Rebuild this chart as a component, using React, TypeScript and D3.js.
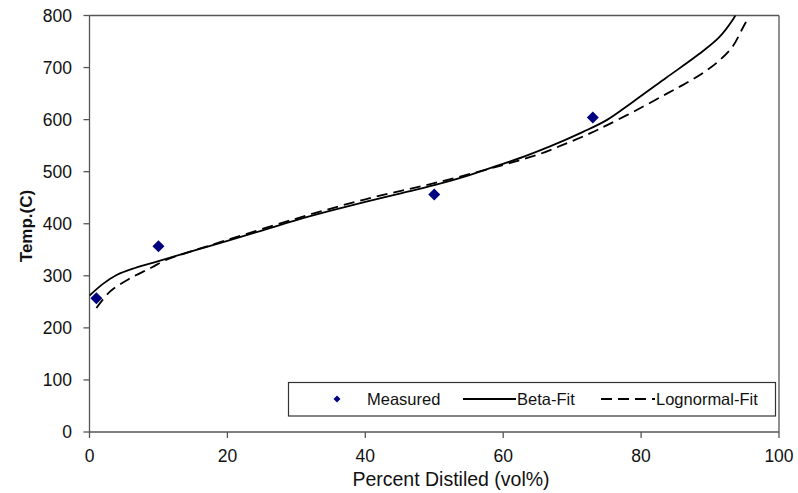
import React from "react";
import * as d3 from "d3";

const measuredX = [1, 10, 50, 73];
const measuredT = [257, 357, 456, 604];

const betaX = [0, 2, 4, 6.6, 10, 15, 20, 25, 30, 35, 40, 45, 50, 55, 59.5, 63, 66.7, 71.5, 75, 78.8, 83.6, 88.4, 91.3, 93.3, 93.7];
const betaT = [262, 285, 302, 315, 328, 348, 367, 387, 407, 425, 442, 458, 474, 493, 513, 529, 548, 576, 599, 634, 680, 726, 758, 792, 801];

const logX = [1, 3, 6, 9, 11, 15, 20, 30, 40, 50, 60, 65.3, 69.1, 72.5, 75, 79.3, 83.6, 86.5, 89, 91.3, 93.3, 94.7, 95.5];
const logT = [238, 270, 296, 316, 330, 348, 369, 410, 447, 478, 513, 534, 554, 573, 589, 618, 649, 670, 690, 713, 741, 775, 795];

const xTicks = [0, 20, 40, 60, 80, 100];
const yTicks = [0, 100, 200, 300, 400, 500, 600, 700, 800];

const W = 798, H = 493;
const left = 89.5, right = 779, top = 15.5, bottom = 432;

export default function App() {
  const x = d3.scaleLinear().domain([0, 100]).range([left, right]);
  const y = d3.scaleLinear().domain([0, 800]).range([bottom, top]);
  const line = d3.line<[number, number]>().x(d => x(d[0])).y(d => y(d[1])).curve(d3.curveCatmullRom.alpha(0.5));
  const betaPath = line(betaX.map((v, i) => [v, betaT[i]]) as [number, number][]) || "";
  const logPath = line(logX.map((v, i) => [v, logT[i]]) as [number, number][]) || "";
  const font = "Liberation Sans, Arial, sans-serif";
  const axisColor = "#555";
  const diamond = (cx: number, cy: number, r: number, key?: any) => (
    <path key={key} d={`M${cx},${cy - r}L${cx + r},${cy}L${cx},${cy + r}L${cx - r},${cy}Z`} fill="#000080" />
  );
  return (
    <svg width={W} height={H} style={{ position: "absolute", left: 0, top: 0, background: "#fff" }}>
      <rect x={0} y={0} width={W} height={H} fill="#fff" />
      <line x1={left} x2={right} y1={top} y2={top} stroke={axisColor} strokeWidth={1.3} />
      <line x1={right} x2={right} y1={top} y2={bottom} stroke={axisColor} strokeWidth={1.3} />
      <line x1={left} x2={left} y1={top} y2={bottom} stroke={axisColor} strokeWidth={1.3} />
      <line x1={left} x2={right} y1={bottom} y2={bottom} stroke={axisColor} strokeWidth={1.3} />
      {yTicks.map(t => (
        <g key={"y" + t}>
          <line x1={left - 6} x2={left} y1={y(t)} y2={y(t)} stroke={axisColor} strokeWidth={1.3} />
          <text x={72} y={y(t)} dy="0.35em" textAnchor="end" fontFamily={font} fontSize={17.5} fill="#111">{t}</text>
        </g>
      ))}
      {xTicks.map(t => (
        <g key={"x" + t}>
          <line x1={x(t)} x2={x(t)} y1={bottom} y2={bottom + 6} stroke={axisColor} strokeWidth={1.3} />
          <text x={x(t)} y={462} textAnchor="middle" fontFamily={font} fontSize={17.5} fill="#111">{t}</text>
        </g>
      ))}
      <text x={451} y={486} textAnchor="middle" fontFamily={font} fontSize={19.5} fill="#111">Percent Distiled (vol%)</text>
      <text transform={`translate(32,226) rotate(-90)`} textAnchor="middle" fontFamily={font} fontSize={17} fontWeight="bold" fill="#111">Temp.(C)</text>
      <defs>
        <clipPath id="plotclip">
          <rect x={left} y={top} width={right - left} height={bottom - top} />
        </clipPath>
      </defs>
      <g clipPath="url(#plotclip)">
        <path d={betaPath} fill="none" stroke="#000" strokeWidth={1.8} />
        <path d={logPath} fill="none" stroke="#000" strokeWidth={1.8} strokeDasharray="11,6" />
      </g>
      {measuredX.map((v, i) => diamond(x(v), y(measuredT[i]), 6, "m" + i))}
      <rect x={288.5} y={382.5} width={487} height={33.5} fill="#fff" stroke="#333" strokeWidth={1.2} />
      {diamond(337, 399, 3.5)}
      <text x={367} y={399} dy="0.35em" fontFamily={font} fontSize={16.5} fill="#111">Measured</text>
      <line x1={463} x2={516} y1={399} y2={399} stroke="#000" strokeWidth={1.8} />
      <text x={517} y={399} dy="0.35em" fontFamily={font} fontSize={16.5} fill="#111">Beta-Fit</text>
      <line x1={601} x2={655} y1={399} y2={399} stroke="#000" strokeWidth={1.8} strokeDasharray="11,6" />
      <text x={656} y={399} dy="0.35em" fontFamily={font} fontSize={16.5} fill="#111">Lognormal-Fit</text>
    </svg>
  );
}
